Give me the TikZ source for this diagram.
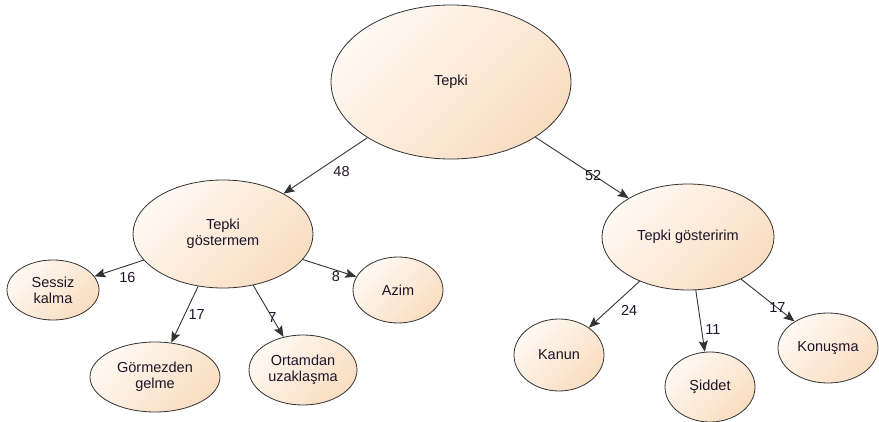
\documentclass[tikz,border=0pt]{standalone}
\usepackage{fontspec}
\setmainfont{Liberation Sans}
\usetikzlibrary{shapes.geometric,arrows.meta}
\definecolor{peachlight}{HTML}{FFF9F3}
\definecolor{peach}{HTML}{F9DDC0}
\definecolor{rim}{HTML}{333333}
\definecolor{ink}{HTML}{1E1528}
\begin{document}
\begin{tikzpicture}[x=1pt,y=-1pt,
    every node/.style={font=\fontsize{14.5}{16}\selectfont,text=ink},
    bubble/.style={ellipse,draw=rim,line width=0.8pt,inner sep=0pt,
      align=center,top color=peachlight,bottom color=peach,
      shading angle=45},
    link/.style={draw=rim,line width=0.9pt,
      -{Stealth[length=11pt,width=9pt,inset=2pt]}}]
    \useasboundingbox (0,0) rectangle (879,422);
    % nodes
    \node[bubble,minimum width=240pt,minimum height=154pt] (tepki) at (451,82) {Tepki};
    \node[bubble,minimum width=180pt,minimum height=108pt] (gostermem) at (223,234) {Tepki\\g\"ostermem};
    \node[bubble,minimum width=172pt,minimum height=106pt] (gosteririm) at (688,237) {Tepki g\"osteririm};
    \node[bubble,minimum width=92pt,minimum height=60pt] (sessiz) at (53,290) {Sessiz\\kalma};
    \node[bubble,minimum width=130pt,minimum height=70pt] (gormezden) at (155,377) {G\"ormezden\\gelme};
    \node[bubble,minimum width=108pt,minimum height=70pt] (ortamdan) at (303,370) {Ortamdan\\uzakla\c{s}ma};
    \node[bubble,minimum width=90pt,minimum height=66pt] (azim) at (398,290) {Azim};
    \node[bubble,minimum width=90pt,minimum height=72pt] (kanun) at (559,355) {Kanun};
    \node[bubble,minimum width=90pt,minimum height=70pt] (siddet) at (710,387) {\c{S}iddet};
    \node[bubble,minimum width=100pt,minimum height=70pt] (konusma) at (828,348) {Konu\c{s}ma};
    % connectors
    \draw[link] (tepki) -- node[pos=0.45,below right]{48} (gostermem);
    \draw[link] (tepki) -- node[pos=0.62]{52} (gosteririm);
    \draw[link] (gostermem) -- node[pos=0.33,below,yshift=-3pt]{16} (sessiz);
    \draw[link] (gostermem) -- node[pos=0.5,right]{17} (gormezden);
    \draw[link] (gostermem) -- node[pos=0.63]{7} (ortamdan);
    \draw[link] (gostermem) -- node[pos=0.62,below,inner sep=1pt]{8} (azim);
    \draw[link] (gosteririm) -- node[pos=0.44,below right]{24} (kanun);
    \draw[link] (gosteririm) -- node[pos=0.63,right]{11} (siddet);
    \draw[link] (gosteririm) -- node[pos=0.68]{17} (konusma);
\end{tikzpicture}
\end{document}
